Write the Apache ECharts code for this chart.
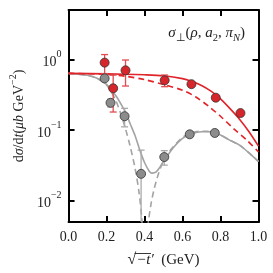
<!DOCTYPE html>
<html><head><meta charset="utf-8">
<script src="https://cdn.jsdelivr.net/npm/echarts@6/dist/echarts.min.js"></script>
<style>html,body{margin:0;padding:0;background:#fff}#c{width:273px;height:273px}</style>
</head><body><div id="c"></div>
<script>
// ---- data ----
const xTickLabels = ['0.0', '0.2', '0.4', '0.6', '0.8', '1.0'];
const yTickExponents = ['0', '−1', '−2'];

const redX = [0.19, 0.235, 0.30, 0.506, 0.647, 0.775, 0.905];
const redY = [0.90, 0.39, 0.70, 0.506, 0.446, 0.287, 0.174];
const redErr = [0.27, 0.21, 0.28, 0.095, 0.02, 0.015, 0.01];

const grayX = [0.19, 0.221, 0.295, 0.382, 0.504, 0.638, 0.77];
const grayY = [0.538, 0.243, 0.157, 0.024, 0.0415, 0.0871, 0.091];
const grayErr = [0.03, 0.03, 0.046, 0.028, 0.0096, 0.006, 0.006];

const redSolidX = [0, 0.2, 0.4, 0.5, 0.6, 0.65, 0.7, 0.75, 0.8, 0.85, 0.9, 0.95, 1.0];
const redSolidY = [0.634, 0.624, 0.605, 0.586, 0.534, 0.486, 0.428, 0.355, 0.276, 0.201, 0.1426, 0.0948, 0.0592];

const redDashX = [0, 0.2, 0.3, 0.4, 0.5, 0.6, 0.67, 0.74, 0.8, 0.87, 0.94, 1.0];
const redDashY = [0.634, 0.614, 0.577, 0.517, 0.442, 0.366, 0.294, 0.2146, 0.1567, 0.1042, 0.0715, 0.049];

const graySolidX = [0, 0.1, 0.15, 0.2, 0.225, 0.25, 0.275, 0.3, 0.325, 0.35, 0.375, 0.4, 0.425, 0.44, 0.46, 0.48, 0.5, 0.55, 0.6, 0.65, 0.7, 0.75, 0.8, 0.85, 0.9, 0.95, 1.0];
const graySolidY = [0.634, 0.596, 0.542, 0.442, 0.366, 0.303, 0.2357, 0.1777, 0.1219, 0.0836, 0.0522, 0.0347, 0.02615, 0.02456, 0.02534, 0.02965, 0.0358, 0.0556, 0.0761, 0.0890, 0.0948, 0.0948, 0.0849, 0.0715, 0.0611, 0.0475, 0.0358];

const grayDashX = [0, 0.1, 0.15, 0.2, 0.225, 0.25, 0.275, 0.3, 0.325, 0.35, 0.37, 0.385, 0.395, 0.4, 0.41, 0.42, 0.435, 0.45, 0.465, 0.485, 0.51, 0.55, 0.6, 0.65, 0.7, 0.75, 0.8, 0.85, 0.9, 0.95, 1.0];
const grayDashY = [0.634, 0.596, 0.538, 0.435, 0.345, 0.258, 0.17, 0.104, 0.058, 0.029, 0.0138, 0.0059, 0.00193, 0.0005, 0.00264, 0.00495, 0.00927, 0.0144, 0.0203, 0.02965, 0.0419, 0.0573, 0.0785, 0.0919, 0.0963, 0.0948, 0.0849, 0.0715, 0.0611, 0.0475, 0.0358];

// ---- chart ----
const FONT = 'Liberation Serif';
const RED = '#e0242a', RED_MK = '#d7262b', GRAY = '#a3a3a3', GRAY_MK = '#8c8c8c';
const zip = (xs, ys) => xs.map((x, i) => [x, ys[i]]);
const errData = (xs, ys, es) => xs.map((x, i) => [x, Math.max(ys[i] - es[i], 1e-4), ys[i] + es[i]]);

function errRender(color) {
  return function (params, api) {
    const x = api.value(0);
    const lo = api.coord([x, api.value(1)]);
    const hi = api.coord([x, api.value(2)]);
    const w = 3.5;
    const st = { stroke: color, lineWidth: 1.3 };
    return { type: 'group', children: [
      { type: 'line', shape: { x1: lo[0], y1: lo[1], x2: hi[0], y2: hi[1] }, style: st },
      { type: 'line', shape: { x1: hi[0] - w, y1: hi[1], x2: hi[0] + w, y2: hi[1] }, style: st },
      { type: 'line', shape: { x1: lo[0] - w, y1: lo[1], x2: lo[0] + w, y2: lo[1] }, style: st }
    ]};
  };
}

const axisLine = { show: true, onZero: false, lineStyle: { color: '#000', width: 2 } };
const axisTick = { show: true, inside: true, length: 6, lineStyle: { color: '#000', width: 2 } };

function yLabel(v) {
  const l = Math.log10(v);
  const e = Math.round(l);
  if (Math.abs(l - e) > 1e-6) return '';
  const idx = -e;
  if (idx < 0 || idx >= yTickExponents.length) return '';
  return '{b|10}{s|' + yTickExponents[idx] + '}';
}

const txt = (o) => Object.assign({ fontFamily: FONT, color: '#222', fontWeight: 'normal' }, o);

const chart = echarts.init(document.getElementById('c'), null, { renderer: 'canvas' });
chart.setOption({
  animation: false,
  backgroundColor: '#fff',
  grid: { left: 60, right: 14.5, top: 10, bottom: 44 },
  title: {
    right: 23, top: 21,
    text: '{i|σ}{sb|⊥}{n|(}{i|ρ}{n|, }{i|a}{sb|2}{n|, }{i|π}{si|N}{n|)}',
    textStyle: {
      fontWeight: 'normal',
      rich: {
        i: txt({ fontStyle: 'italic', fontSize: 15, verticalAlign: 'top', lineHeight: 18 }),
        n: txt({ fontSize: 15, verticalAlign: 'top', lineHeight: 18 }),
        sb: txt({ fontSize: 10.5, verticalAlign: 'bottom', lineHeight: 10 }),
        si: txt({ fontStyle: 'italic', fontSize: 10.5, verticalAlign: 'bottom', lineHeight: 10 })
      }
    }
  },
  graphic: [{
    type: 'line', shape: { x1: 134.5, y1: 253.5, x2: 151, y2: 253.5 },
    style: { stroke: '#222', lineWidth: 0.9 }, silent: true
  }],
  xAxis: [{
    type: 'value', min: 0, max: 1, interval: 0.2, position: 'bottom',
    axisLine, axisTick, splitLine: { show: false },
    axisLabel: { margin: 8, fontFamily: FONT, fontSize: 14, color: '#222',
      formatter: v => xTickLabels[Math.round(v / 0.2)] },
    name: '{r|√}{o|−t′}{n|  (GeV)}', nameLocation: 'middle', nameGap: 30,
    nameTextStyle: { rich: {
      r: txt({ fontSize: 16 }),
      o: txt({ fontStyle: 'italic', fontSize: 15 }),
      n: txt({ fontSize: 15 })
    } }
  }, {
    type: 'value', min: 0, max: 1, interval: 0.2, position: 'top',
    axisLine, axisTick, splitLine: { show: false }, axisLabel: { show: false }
  }],
  yAxis: [{
    type: 'log', logBase: 10, min: 0.005, max: 5, position: 'left',
    axisLine, axisTick, splitLine: { show: false }, minorTick: { show: false },
    axisLabel: { margin: 7, formatter: yLabel, rich: {
      b: txt({ fontSize: 14, verticalAlign: 'bottom', lineHeight: 20 }),
      s: txt({ fontSize: 10, verticalAlign: 'top', lineHeight: 10 })
    } },
    name: '{n|d}{i|σ}{n|/d}{i|t}{n|(}{i|μb}{n| GeV}{s|−2}{n|)}', nameLocation: 'middle', nameGap: 38,
    nameTextStyle: { rich: {
      n: txt({ fontSize: 14, verticalAlign: 'bottom', lineHeight: 18 }),
      i: txt({ fontStyle: 'italic', fontSize: 14, verticalAlign: 'bottom', lineHeight: 18 }),
      s: txt({ fontSize: 10, verticalAlign: 'top', lineHeight: 10 })
    } }
  }, {
    type: 'log', logBase: 10, min: 0.005, max: 5, position: 'right',
    axisLine, axisTick, splitLine: { show: false }, axisLabel: { show: false }
  }],
  series: [
    { type: 'line', data: zip(graySolidX, graySolidY), smooth: 0.3, showSymbol: false, symbol: 'none', clip: true,
      lineStyle: { color: GRAY, width: 1.6 }, z: 2 },
    { type: 'line', data: zip(grayDashX, grayDashY), smooth: 0.3, showSymbol: false, symbol: 'none', clip: true,
      lineStyle: { color: GRAY, width: 1.6, type: [6, 4] }, z: 2 },
    { type: 'line', data: zip(redSolidX, redSolidY), smooth: 0.3, showSymbol: false, symbol: 'none', clip: true,
      lineStyle: { color: RED, width: 1.6 }, z: 3 },
    { type: 'line', data: zip(redDashX, redDashY), smooth: 0.3, showSymbol: false, symbol: 'none', clip: true,
      lineStyle: { color: RED, width: 1.6, type: [6, 4] }, z: 3 },
    { type: 'custom', data: errData(grayX, grayY, grayErr), renderItem: errRender('#aaaaaa'), clip: true, z: 4 },
    { type: 'custom', data: errData(redX, redY, redErr), renderItem: errRender('#e24b50'), clip: true, z: 4 },
    { type: 'scatter', data: zip(grayX, grayY), symbolSize: 9, z: 5,
      itemStyle: { color: GRAY_MK, borderColor: '#333', borderWidth: 0.8, opacity: 1 } },
    { type: 'scatter', data: zip(redX, redY), symbolSize: 9, z: 6,
      itemStyle: { color: RED_MK, borderColor: '#333', borderWidth: 0.8, opacity: 1 } }
  ]
});
</script>
</body></html>
